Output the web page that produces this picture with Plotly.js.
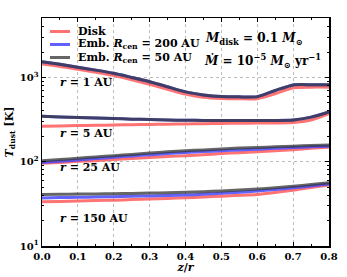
<!DOCTYPE html>
<html><head><meta charset="utf-8">
<script src="https://cdn.plot.ly/plotly-3.0.1.min.js"></script>
<style>html,body{margin:0;padding:0;background:#fff}#chart{width:347px;height:277px}</style>
</head><body><div id="chart"></div>
<script>
const z = [0,0.05,0.1,0.15,0.2,0.25,0.3,0.35,0.4,0.45,0.5,0.55,0.6,0.65,0.7,0.75,0.8];

const disk_r1   = [1440,1350,1250,1150,1050,940,830,725,633,580,562,558,560,640,755,767,767];
const emb200_r1 = [1540,1430,1320,1220,1120,1000,890,775,674,620,592,588,592,700,815,820,818];
const emb50_r1  = [1540,1430,1320,1220,1120,1000,890,775,674,620,592,588,592,700,815,820,818];

const disk_r5   = [263,265,268,270,273,275,277,279,281,283,284,286,287,288,291,312,372];
const emb200_r5 = [346,340,335,330,325,320,316,313,310,309,308,308,308,308,312,338,390];
const emb50_r5  = [346,340,335,330,325,320,316,313,310,309,308,308,308,308,312,338,390];

const disk_r25   = [96,98,101,103,106,109,112,115,118,121,125,128,131,135,139,144,148];
const emb200_r25 = [98,101,105,109,113,117,121,125,129,132,135,138,141,144,147,150,153];
const emb50_r25  = [103,106,110,114,118,122,127,131,135,138,142,145,147,150,153,156,158];

const disk_r150   = [33.4,33.8,34.2,34.6,35.0,35.5,36.1,36.7,37.3,38.1,39.0,39.9,40.9,43.2,46.0,49.3,52.8];
const emb200_r150 = [37.2,37.5,37.8,38.1,38.5,38.9,39.3,39.7,40.2,41.1,42.2,43.4,44.8,46.8,49.0,51.5,54.3];
const emb50_r150  = [40.9,41.1,41.3,41.5,41.8,42.1,42.4,42.8,43.3,44.1,45.0,46.1,47.3,49.0,51.0,53.5,56.3];

const seriesNames = ['Disk', 'Emb. <i>R</i><sub>cen</sub> = 200 AU', 'Emb. <i>R</i><sub>cen</sub> = 50 AU'];
const radiusLabels = ['<i>r</i> = 1 AU', '<i>r</i> = 5 AU', '<i>r</i> = 25 AU', '<i>r</i> = 150 AU'];
const yTickVals = [10, 100, 1000];
const yTickText = ['10<sup>1</sup>', '10<sup>2</sup>', '10<sup>3</sup>'];
const xTickVals = [0,0.1,0.2,0.3,0.4,0.5,0.6,0.7,0.8];

const colors = ['#ff5a5a', '#4646ff', '#333333'];
const opac = [0.85, 0.85, 0.75];
const groups = [
  [disk_r1, emb200_r1, emb50_r1],
  [disk_r5, emb200_r5, emb50_r5],
  [disk_r25, emb200_r25, emb50_r25],
  [disk_r150, emb200_r150, emb50_r150]
];
const fam = 'DejaVu Serif, Liberation Serif, serif';
const F = (s) => ({family: fam, color: '#000', weight: 'bold', size: s});

const PL = 42, PT = 18, PW = 287, PH = 228;
const px = (x) => (x - PL) / PW;
const py = (y) => 1 - (y - PT) / PH;

const traces = [];
groups.forEach((g, gi) => {
  g.forEach((vals, si) => {
    traces.push({
      x: z, y: vals, type: 'scatter', mode: 'lines',
      name: seriesNames[si], showlegend: false,
      line: {color: colors[si], width: 3, shape: 'spline', smoothing: 0.6},
      opacity: opac[si]
    });
  });
});

const minorY = [];
[10, 100, 1000].forEach(d => { for (let k = 2; k <= 9; k++) if (d * k <= 5000) minorY.push(d * k); });

const shapes = [];
const annotations = [];
// legend
const legY = [31.5, 44.5, 57.5];
seriesNames.forEach((n, i) => {
  shapes.push({type: 'line', xref: 'paper', yref: 'paper', x0: px(50), x1: px(70), y0: py(legY[i]), y1: py(legY[i]),
    line: {color: colors[i], width: 3}, opacity: opac[i]});
  annotations.push({text: n, xref: 'paper', yref: 'paper', x: px(76), xanchor: 'left', y: py(legY[i]),
    yanchor: 'middle', showarrow: false, font: F(11)});
});

const labelY = [82, 133, 167, 218];
radiusLabels.forEach((t, i) => annotations.push({
  text: t, xref: 'paper', yref: 'paper', x: px(58), xanchor: 'left',
  y: py(labelY[i]), yanchor: 'middle', showarrow: false, font: F(11)
}));
annotations.push({
  text: '<i>M</i><sub>disk</sub> = 0.1 <i>M</i><sub>⊙</sub>', xref: 'paper', yref: 'paper',
  x: px(203), xanchor: 'left', y: py(39), yanchor: 'middle', showarrow: false, font: F(12)
});
annotations.push({
  text: '<i>Ṁ</i> = 10<sup>−5</sup> <i>M</i><sub>⊙</sub> yr<sup>−1</sup>', xref: 'paper', yref: 'paper',
  x: px(202), xanchor: 'left', y: py(61), yanchor: 'middle', showarrow: false, font: F(12)
});

const layout = {
  width: 347, height: 277,
  margin: {l: PL, r: 347 - PL - PW, t: PT, b: 277 - PT - PH, pad: 0},
  paper_bgcolor: '#fff', plot_bgcolor: '#fff',
  font: F(10),
  showlegend: false,
  xaxis: {
    range: [0, 0.8], tickvals: xTickVals, tickformat: '.1f',
    ticks: 'inside', ticklen: 4, tickcolor: '#000', showline: true, linecolor: '#000', linewidth: 1.5,
    mirror: 'allticks', showgrid: true, gridcolor: '#bbb', griddash: 'dot', gridwidth: 1, zeroline: false,
    minor: {dtick: 0.05, ticks: 'inside', ticklen: 2, tickcolor: '#000', showgrid: false},
    tickfont: F(10),
    title: {text: '<i>z</i>/<i>r</i>', font: F(11), standoff: 3}
  },
  yaxis: {
    type: 'log', range: [1, 3.705], tickvals: yTickVals, ticktext: yTickText,
    ticks: 'inside', ticklen: 4, tickcolor: '#000', showline: true, linecolor: '#000', linewidth: 1.5,
    mirror: 'allticks', showgrid: true, gridcolor: '#bbb', griddash: 'dot', gridwidth: 1, zeroline: false,
    minor: {tickvals: minorY, ticks: 'inside', ticklen: 2, tickcolor: '#000', showgrid: false},
    tickfont: F(10),
    title: {text: '<i>T</i><sub>dust</sub> [K]', font: F(11), standoff: 4}
  },
  shapes: shapes,
  annotations: annotations
};

Plotly.newPlot('chart', traces, layout, {staticPlot: true, displayModeBar: false});
</script></body></html>
